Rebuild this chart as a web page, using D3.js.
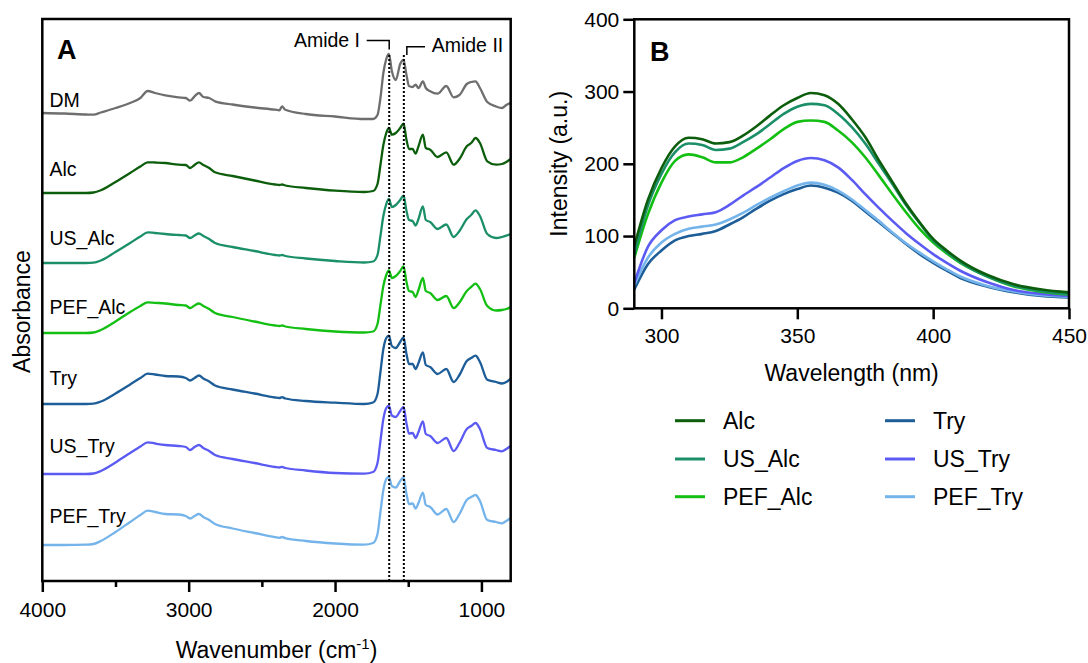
<!DOCTYPE html>
<html><head><meta charset="utf-8">
<script src="https://cdn.jsdelivr.net/npm/d3@7"></script>
<style>
body{margin:0;background:#fff}
svg{display:block}
text{font-family:"Liberation Sans",Arial,Helvetica,sans-serif;fill:#000}
</style>
</head><body>
<svg id="chart" width="1088" height="663"></svg>
<script>
// ---------- Panel A: FTIR spectra (heights above each trace's own baseline) ----------
const wavenumbers = [4000,3850,3700,3650,3600,3500,3400,3330,3280,3230,3160,3070,3020,2990,2960,2930,2900,2860,2820,2700,2550,2410,2380,2362,2340,2200,2000,1800,1740,1710,1690,1670,1650,1632,1612,1585,1555,1532,1512,1495,1470,1450,1430,1400,1380,1350,1300,1240,1190,1150,1100,1070,1040,1010,960,900,860,830,800];
const specDM     = [0,-0.5,-1.5,-1.7,0.5,5,10,15,22,20,17.7,15.7,15,12.3,16.7,20,16,15,11.7,8.5,5.5,3.3,2.7,6.7,3.3,-1,-3.5,-6,-6,-2,15,40,54,59,42,33,49,53,38,27,26,28.3,25,31.5,25,21.7,19.3,27,15.7,18,29,31,31.7,25,11,6.5,5,8,10];
const specAlc    = [0,0,0,0.5,2.7,11,20,26.5,30.7,30.5,30,28.3,28,25,28,30.7,28,25,20.7,17,12.5,8.5,8,8.5,7.5,5,2.3,1,2,9,28,48,60,65,58.3,60,65,69.3,53.3,44,44,39.3,46.7,58.3,45,43.3,36,40.7,28.3,34,46.7,50,55,50,31.7,28.3,29,31,34];
const specUSAlc  = [0,0,0,0.3,2.5,11,20,26.5,30.7,30,29,28,27.5,25,27.5,29.5,27,24,20,16,12,8,7.5,8,7,4.5,2,0.5,1.5,8,27,47,59,64,56,58,63,67.3,52,43,42,37.5,44,56.7,43,41,34,38.5,26,32,44,48,52.7,47,29,25,26,27.3,29];
const specPEFAlc = [0,0,0,0.5,3,11.5,21,27,30.7,30.2,29.5,28,27.5,25,27.5,29.5,27,24,20,16,11.5,7.5,7,7.5,6.5,4,1.5,0.5,1.5,9,28,47,58,62.7,55,57,62,66.7,51,42,41,36,43,55,42,40,33,37,25,30.5,42,46,49.3,44,27,22.5,23,24,26];
const specTry    = [0,0,0,0.3,2.5,10.5,19.5,26,30.3,29.5,28,27.5,26,23.5,26,28.5,25.5,22.5,18.5,14.5,10.5,6.5,6,6.8,5.5,3,1.3,0,1.5,10,32,55,66,68.3,58,56,62,66.7,50,40,40,35,41,51.7,39,37,30,35,22,29,43,46,48.3,42,24.3,22,20.5,22,25.5];
const specUSTry  = [0,0,0,0.5,3,11.5,21,27.5,31.7,30.5,29,28,27,24,27,29,26,23,19,15,11,7,6.5,7.2,6,3.5,1,0.3,2,11,33,55,66,68.3,58.5,57,63,67,50.5,40.5,41,36,42,52.7,40,38,31,36,23,31,45,48,51,45,26,24,22.7,25,28];
const specPEFTry = [0,0,0.3,1,4,13,23,30,34.3,33,31,30.5,29,26.5,29,31,28,25,21,16.5,12,7.8,7.2,8,6.8,4,1.5,0.3,2,11,33,55,66,68.3,59,57.5,64,67.7,51,41,41.5,36.5,42,52.3,40,38,30.5,36,23,31,45,48,50,44,25,23,21.7,24,27];
const spectraNames   = ["DM","Alc","US_Alc","PEF_Alc","Try","US_Try","PEF_Try"];
const spectraValues  = [specDM,specAlc,specUSAlc,specPEFAlc,specTry,specUSTry,specPEFTry];
const spectraOffsets = [468,388,318,248,177,107,36];
const amideBands     = [1630,1530];
const amideLabels    = ["Amide I","Amide II"];
const wnMajorTicks   = [4000,3000,2000,1000];
const wnMinorTicks   = [3500,2500,1500];

// ---------- Panel B: fluorescence emission ----------
const wavelengths = [290,295,300,305,310,315,320,325,330,335,340,345,350,355,360,365,370,375,380,385,390,395,400,405,410,420,430,440,450];
const flAlc    = [86,150,194,224,236,234,228,230,239,252,267,281,291,298,295,283,262,237,205,175,145,119,96,80,66,46,33,26,22];
const flUSAlc  = [75,142,186,216,228,226,219,221,230,241,255,269,279,283,281,269,251,228,200,172,143,118,94,78,64,44,31,24,20];
const flPEFAlc = [70,130,174,204,213,209,202,202,209,221,234,248,258,260,258,246,230,209,184,158,133,110,91,76,63,44,30,23,19];
const flTry    = [26,61,80,94,100,103,107,116,126,138,149,158,165,170,167,160,149,134,119,104,89,75,63,52,42,30,22,17,15];
const flUSTry  = [35,85,108,122,127,130,133,143,156,168,181,194,204,208,205,195,178,158,139,121,104,89,75,63,52,36,25,20,17];
const flPEFTry = [32,70,91,103,110,113,116,123,132,143,153,162,170,174,171,163,151,136,121,105,90,77,65,54,44,31,23,18,16];
const flNames  = ["Alc","US_Alc","PEF_Alc","Try","US_Try","PEF_Try"];
const flValues = [flAlc,flUSAlc,flPEFAlc,flTry,flUSTry,flPEFTry];
const intensityTicks  = [0,100,200,300,400];
const wavelengthTicks = [300,350,400,450];

// ---------- styles ----------
const colors = {DM:"#6e6e6e",Alc:"#0c5e0c",US_Alc:"#1a8f68",PEF_Alc:"#14bf14",Try:"#1d5d98",US_Try:"#5b5bf3",PEF_Try:"#74b4ea"};

const svg = d3.select("#chart");

// ===== Panel A =====
const A = {l:42.3, r:510.7, t:19, b:581};
const xA = d3.scaleLinear().domain([4000,800]).range([A.l,A.r]);
const yA = d3.scaleLinear().domain([0,562]).range([A.b,A.t]);

const gA = svg.append("g");
const lineA = d3.line().x(d=>xA(d[0])).y(d=>yA(d[1])).curve(d3.curveMonotoneX);
spectraNames.forEach((name,i)=>{
  const pts = wavenumbers.map((w,j)=>[w, spectraValues[i][j] + spectraOffsets[i]]);
  gA.append("path").attr("d",lineA(pts)).attr("fill","none")
    .attr("stroke",colors[name]).attr("stroke-width",2.3).attr("stroke-linejoin","round");
});
const labelBase = [107.3,175.7,245,314,385,453.3,522.7];
spectraNames.forEach((name,i)=>{
  gA.append("text").attr("x",49.5).attr("y",labelBase[i]).attr("font-size",19.5).text(name);
});

// amide dotted lines
amideBands.forEach(w=>{
  gA.append("line").attr("x1",xA(w)).attr("x2",xA(w)).attr("y1",55).attr("y2",A.b)
    .attr("stroke","#000").attr("stroke-width",2).attr("stroke-dasharray","2,2");
});
// brackets + labels
gA.append("path").attr("d",`M366.7,40.5H${xA(amideBands[0])}V49.5`).attr("fill","none").attr("stroke","#000").attr("stroke-width",1.5);
gA.append("path").attr("d",`M${xA(amideBands[1])+3},55V46.7H425`).attr("fill","none").attr("stroke","#000").attr("stroke-width",1.5);
gA.append("text").attr("x",360).attr("y",47).attr("text-anchor","end").attr("font-size",19.5).text(amideLabels[0]);
gA.append("text").attr("x",431.7).attr("y",52).attr("font-size",19.5).text(amideLabels[1]);

// frame
gA.append("rect").attr("x",A.l).attr("y",A.t).attr("width",A.r-A.l).attr("height",A.b-A.t)
  .attr("fill","none").attr("stroke","#000").attr("stroke-width",2.5);
// x axis
const axA = gA.append("g").attr("transform",`translate(0,${A.b})`)
  .call(d3.axisBottom(xA).tickValues(wnMajorTicks).tickSize(11).tickPadding(10).tickFormat(d3.format("d")));
gA.append("g").attr("transform",`translate(0,${A.b})`)
  .call(d3.axisBottom(xA).tickValues(wnMinorTicks).tickSize(6).tickFormat(""));
gA.selectAll(".domain").remove();
gA.selectAll(".tick line").attr("stroke","#000").attr("stroke-width",2.5);
axA.selectAll(".tick text").attr("font-size",21).attr("font-family","Liberation Sans, Arial, sans-serif").attr("fill","#000");

const tA = gA.append("text").attr("x",(A.l+A.r)/2).attr("y",658).attr("text-anchor","middle").attr("font-size",23);
tA.append("tspan").text("Wavenumber (cm");
tA.append("tspan").attr("font-size",15).attr("dy",-9).text("-1");
tA.append("tspan").attr("dy",9).text(")");
gA.append("text").attr("transform","translate(30,311.5) rotate(-90)").attr("text-anchor","middle").attr("font-size",23).text("Absorbance");
gA.append("text").attr("x",57).attr("y",59).attr("font-size",27).attr("font-weight","bold").text("A");

// ===== Panel B =====
const B = {l:634.3, r:1069, t:19.3, b:308.3};
const xB = d3.scaleLinear().domain([290,450]).range([B.l,B.r]);
const yB = d3.scaleLinear().domain([0,400]).range([B.b,B.t]);
const gB = svg.append("g");
const lineB = d3.line().x(d=>xB(d[0])).y(d=>yB(d[1])).curve(d3.curveMonotoneX);
const drawOrder = [3,5,4,2,1,0];
drawOrder.forEach(i=>{
  const pts = wavelengths.map((w,j)=>[w, flValues[i][j]]);
  gB.append("path").attr("d",lineB(pts)).attr("fill","none")
    .attr("stroke",colors[flNames[i]]).attr("stroke-width",2.6);
});
gB.append("rect").attr("x",B.l).attr("y",B.t).attr("width",B.r-B.l).attr("height",B.b-B.t)
  .attr("fill","none").attr("stroke","#000").attr("stroke-width",2.5);
const axBx = gB.append("g").attr("transform",`translate(0,${B.b})`)
  .call(d3.axisBottom(xB).tickValues(wavelengthTicks).tickSize(11).tickPadding(9));
const axBy = gB.append("g").attr("transform",`translate(${B.l},0)`)
  .call(d3.axisLeft(yB).tickValues(intensityTicks).tickSize(11).tickPadding(4));
gB.selectAll(".domain").remove();
gB.selectAll(".tick line").attr("stroke","#000").attr("stroke-width",2.5);
gB.selectAll(".tick text").attr("font-size",21).attr("font-family","Liberation Sans, Arial, sans-serif").attr("fill","#000");
gB.append("text").attr("x",(B.l+B.r)/2).attr("y",381).attr("text-anchor","middle").attr("font-size",23).text("Wavelength (nm)");
gB.append("text").attr("transform",`translate(567,${(B.t+B.b)/2}) rotate(-90)`).attr("text-anchor","middle").attr("font-size",23).text("Intensity (a.u.)");
gB.append("text").attr("x",650).attr("y",61).attr("font-size",27).attr("font-weight","bold").text("B");

// legend
const legRows = [420.7,459,496.7];
const legCols = [675,885];
flNames.forEach((name,i)=>{
  const cx = legCols[Math.floor(i/3)], cy = legRows[i%3];
  svg.append("line").attr("x1",cx).attr("x2",cx+30).attr("y1",cy).attr("y2",cy)
    .attr("stroke",colors[name]).attr("stroke-width",3);
  svg.append("text").attr("x",cx+48).attr("y",cy+8.3).attr("font-size",23).text(name);
});
</script>
</body></html>
